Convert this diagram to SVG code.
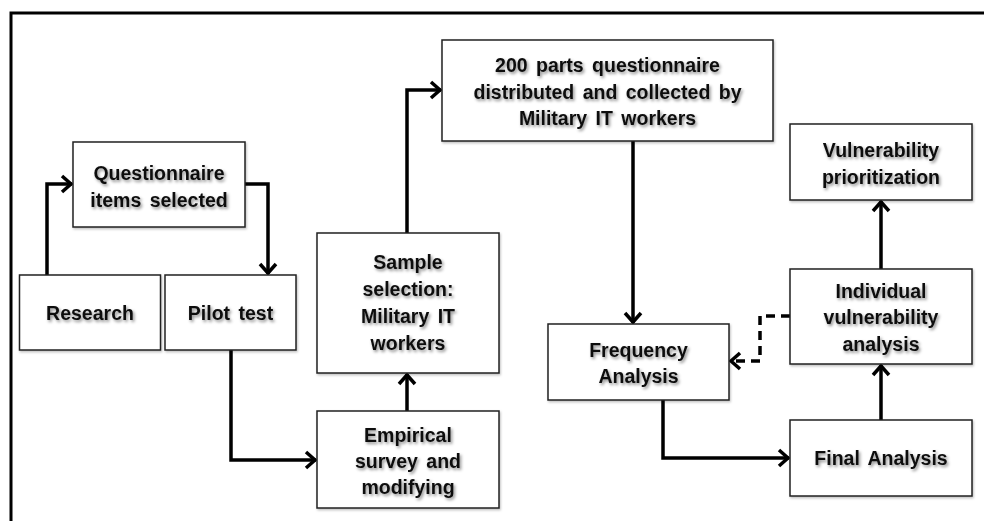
<svg xmlns="http://www.w3.org/2000/svg" width="984" height="521" viewBox="0 0 984 521">
<style>
.box{fill:#fff;stroke:#222;stroke-width:1.5;filter:url(#bs)}
.t{font-family:"Liberation Sans",Arial,sans-serif;font-weight:bold;font-size:19.5px;fill:#111;text-anchor:middle;word-spacing:3px;filter:url(#ts)}
.c{fill:none;stroke:#000;stroke-width:3.5;stroke-linejoin:miter;marker-end:url(#ah)}
.d{stroke-dasharray:9,6}
</style>
<defs>
<filter id="ts" x="-20%" y="-40%" width="140%" height="180%">
<feDropShadow dx="1.5" dy="2" stdDeviation="1.4" flood-color="#000" flood-opacity="0.45"/>
</filter>
<filter id="bs" x="-5%" y="-5%" width="110%" height="115%">
<feDropShadow dx="1" dy="1.5" stdDeviation="1" flood-color="#000" flood-opacity="0.25"/>
</filter>
<marker id="ah" markerUnits="userSpaceOnUse" markerWidth="18" markerHeight="20" viewBox="0 0 18 20" refX="15" refY="10" orient="auto">
<path d="M5,2 L14,10 L5,18" fill="none" stroke="#000" stroke-width="3.5"/>
</marker>
</defs>
<rect width="984" height="521" fill="#fff"/>
<path d="M11,521 V13 H984" fill="none" stroke="#000" stroke-width="3"/>

<g id="connectors">
<polyline class="c" points="47,275 47,184 72,184"/>
<polyline class="c" points="245,184 268,184 268,274"/>
<polyline class="c" points="231,350 231,460 316,460"/>
<polyline class="c" points="407,411 407,374"/>
<polyline class="c" points="407,233 407,90 441,90"/>
<polyline class="c" points="633,141 633,323"/>
<polyline class="c" points="663,400 663,458 789,458"/>
<polyline class="c" points="881,420 881,365"/>
<polyline class="c" points="881,269 881,201"/>
<polyline class="c d" points="790,316 760,316 760,361 730,361"/>
</g>

<g id="questionnaire">
<rect class="box" x="73" y="142" width="172" height="85"/>
<text class="t" x="159" y="180">Questionnaire</text>
<text class="t" x="159" y="207">items selected</text>
</g>
<g id="research">
<rect class="box" x="19.5" y="275" width="141" height="75"/>
<text class="t" x="90" y="320">Research</text>
</g>
<g id="pilot">
<rect class="box" x="165" y="275" width="131" height="75"/>
<text class="t" x="230.5" y="320">Pilot test</text>
</g>
<g id="sample">
<rect class="box" x="317" y="233" width="182" height="140"/>
<text class="t" x="408" y="269">Sample</text>
<text class="t" x="408" y="296">selection:</text>
<text class="t" x="408" y="323">Military IT</text>
<text class="t" x="408" y="350">workers</text>
</g>
<g id="empirical">
<rect class="box" x="317" y="411" width="182" height="97"/>
<text class="t" x="408" y="442">Empirical</text>
<text class="t" x="408" y="468">survey and</text>
<text class="t" x="408" y="494">modifying</text>
</g>
<g id="distributed">
<rect class="box" x="442" y="40" width="331" height="101"/>
<text class="t" x="607.5" y="72">200 parts questionnaire</text>
<text class="t" x="607.5" y="99">distributed and collected by</text>
<text class="t" x="607.5" y="125">Military IT workers</text>
</g>
<g id="frequency">
<rect class="box" x="548" y="324" width="181" height="76"/>
<text class="t" x="638.5" y="357">Frequency</text>
<text class="t" x="638.5" y="383">Analysis</text>
</g>
<g id="prioritization">
<rect class="box" x="790" y="124" width="182" height="76"/>
<text class="t" x="881" y="157">Vulnerability</text>
<text class="t" x="881" y="184">prioritization</text>
</g>
<g id="individual">
<rect class="box" x="790" y="269" width="182" height="95"/>
<text class="t" x="881" y="298">Individual</text>
<text class="t" x="881" y="324">vulnerability</text>
<text class="t" x="881" y="351">analysis</text>
</g>
<g id="final">
<rect class="box" x="790" y="420" width="182" height="76"/>
<text class="t" x="881" y="465">Final Analysis</text>
</g>
</svg>
